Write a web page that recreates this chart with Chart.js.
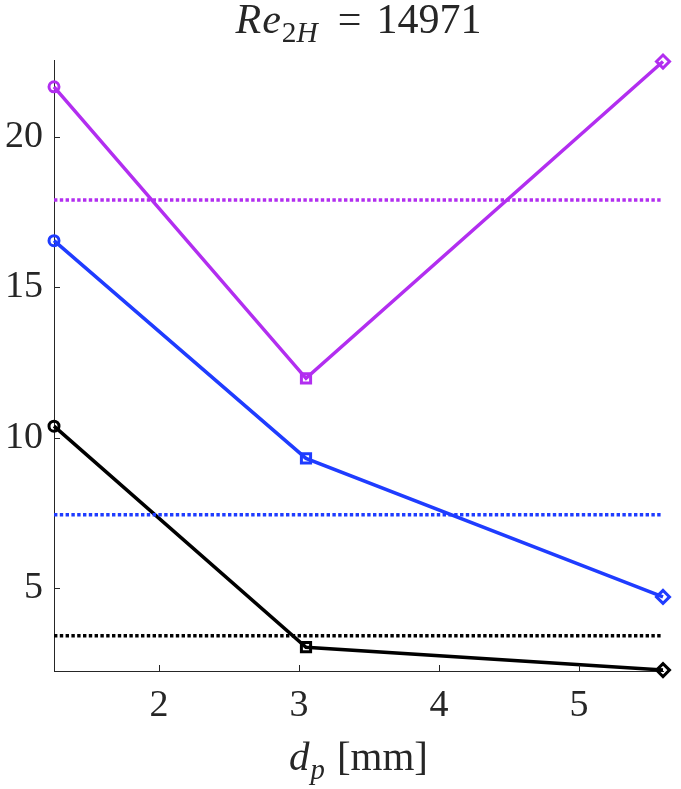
<!DOCTYPE html>
<html>
<head>
<meta charset="utf-8">
<script src="https://cdn.jsdelivr.net/npm/chart.js@4"></script>
<style>
  html, body { margin: 0; padding: 0; background: #fff; }
  #wrap { width: 681px; height: 789px; position: relative; }
</style>
</head>
<body>
<div id="wrap"><canvas id="chart" width="681" height="789"></canvas></div>
<script>
// d_p values (mm) for the three particle sizes
const dp = [1.25, 3.05, 5.6];

// measured series
const purpleVals = [21.66, 11.98, 22.5];
const blueVals = [16.55, 9.32, 4.72];
const blackVals = [10.39, 3.05, 2.29];

// horizontal reference levels (dotted)
const purpleRef = 17.9;
const blueRef = 7.45;
const blackRef = 3.43;

const xTicks = [2, 3, 4, 5];
const yTicks = [5, 10, 15, 20];
const xRange = [1.25, 5.6];
const yRange = [2.26, 22.55];

const PURPLE = '#b22ef0';
const BLUE = '#1f3cff';
const BLACK = '#000000';
const AXIS = '#262626';
const SERIF = '"Liberation Serif", "DejaVu Serif", serif';

const toPts = vals => vals.map((v, i) => ({ x: dp[i], y: v }));
const refPts = v => [{ x: xRange[0], y: v }, { x: xRange[1], y: v }];

function seriesSet(label, vals, color) {
    return {
        label: label,
        data: toPts(vals),
        borderColor: color,
        backgroundColor: 'transparent',
        borderWidth: 3.5,
        pointStyle: ['circle', 'rect', 'rectRot'],
        pointRadius: [5, 6.5, 6.5],
        pointBorderWidth: 3,
        pointBorderColor: color,
        pointBackgroundColor: 'transparent',
        tension: 0
    };
}

function refSet(label, v, color) {
    return {
        label: label,
        data: refPts(v),
        borderColor: color,
        borderWidth: 3.5,
        borderDash: [3.4, 2.4],
        pointRadius: 0,
        tension: 0
    };
}

// draw text runs (italic / subscript / extra gap) centred on x
function drawRuns(ctx, runs, cx, baseline, size) {
    const parts = runs.map(r => {
        const fs = r.sub ? size * 0.7 : size;
        const font = (r.it ? 'italic ' : '') + fs + 'px ' + SERIF;
        ctx.font = font;
        const w = r.t ? ctx.measureText(r.t).width : 0;
        return { text: r.t, font: font, w: w + (r.gap || 0), dy: r.sub ? size * 0.22 : 0 };
    });
    const total = parts.reduce((s, p) => s + p.w, 0);
    let x = cx - total / 2;
    ctx.textBaseline = 'alphabetic';
    ctx.textAlign = 'left';
    ctx.fillStyle = AXIS;
    parts.forEach(p => {
        ctx.font = p.font;
        if (p.text) ctx.fillText(p.text, x, baseline + p.dy);
        x += p.w;
    });
}

const labelsPlugin = {
    id: 'labels',
    afterDraw(chart) {
        const ctx = chart.ctx;
        const a = chart.chartArea;
        const cx = (a.left + a.right) / 2;
        ctx.save();
        drawRuns(ctx, [
            { t: 'R', it: true, gap: 1 },
            { t: 'e', it: true, gap: 1 },
            { t: '2', sub: true },
            { t: 'H', it: true, sub: true, gap: 20 },
            { t: '=', gap: 15 },
            { t: '14971' }
        ], cx, 33, 42);
        drawRuns(ctx, [
            { t: 'd', it: true, gap: 1 },
            { t: 'p', it: true, sub: true, gap: 12 },
            { t: '[mm]' }
        ], cx, 770, 41);

        // inward tick marks
        const xs = chart.scales.x, ys = chart.scales.y;
        ctx.strokeStyle = AXIS;
        ctx.lineWidth = 1;
        ctx.beginPath();
        xTicks.forEach(v => {
            const px = Math.round(xs.getPixelForValue(v)) + 0.5;
            ctx.moveTo(px, a.bottom);
            ctx.lineTo(px, a.bottom - 6);
        });
        yTicks.forEach(v => {
            const py = Math.round(ys.getPixelForValue(v)) + 0.5;
            ctx.moveTo(a.left, py);
            ctx.lineTo(a.left + 6, py);
        });
        ctx.stroke();
        ctx.restore();
    }
};

new Chart(document.getElementById('chart').getContext('2d'), {
    type: 'line',
    data: {
        datasets: [
            refSet('purple ref', purpleRef, PURPLE),
            refSet('blue ref', blueRef, BLUE),
            refSet('black ref', blackRef, BLACK),
            seriesSet('purple', purpleVals, PURPLE),
            seriesSet('blue', blueVals, BLUE),
            seriesSet('black', blackVals, BLACK)
        ]
    },
    options: {
        responsive: false,
        animation: false,
        clip: false,
        layout: { padding: { top: 60, right: 18, left: 0, bottom: 0 } },
        scales: {
            x: {
                type: 'linear',
                min: xRange[0],
                max: xRange[1],
                afterBuildTicks: s => { s.ticks = xTicks.map(v => ({ value: v })); },
                afterFit: s => { s.height = 118; },
                grid: { display: true, drawOnChartArea: false, drawTicks: false },
                border: { display: true, color: AXIS, width: 1 },
                ticks: { color: AXIS, padding: 12, font: { family: SERIF, size: 38 }, maxRotation: 0 }
            },
            y: {
                type: 'linear',
                min: yRange[0],
                max: yRange[1],
                afterBuildTicks: s => { s.ticks = yTicks.map(v => ({ value: v })); },
                afterFit: s => { s.width = 54; },
                grid: { display: true, drawOnChartArea: false, drawTicks: false },
                border: { display: true, color: AXIS, width: 1 },
                ticks: { color: AXIS, padding: 11, font: { family: SERIF, size: 38 } }
            }
        },
        plugins: {
            legend: { display: false },
            tooltip: { enabled: false },
            title: { display: false }
        }
    },
    plugins: [labelsPlugin]
});
</script>
</body>
</html>
